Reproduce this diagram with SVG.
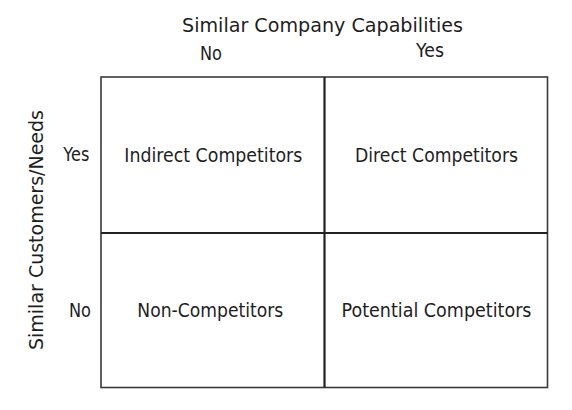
<svg xmlns="http://www.w3.org/2000/svg" width="572" height="410" viewBox="0 0 572 410">
<style>
text{font-family:"DejaVu Sans","Liberation Sans",sans-serif;fill:#1e1e1e;}
.t{font-size:20px;}
.l{font-size:19px;}
.cell{fill:#fff;stroke:none;}
.outer{fill:none;stroke:#3a3a3a;stroke-width:1.6;}
.inner{stroke:#222;stroke-width:2.2;}
</style>
<rect width="572" height="410" fill="#fff"/>
<g id="axis-x">
<text class="t" x="322.5" y="32" text-anchor="middle" textLength="281" lengthAdjust="spacingAndGlyphs">Similar Company Capabilities</text>
<text class="l" x="211" y="60" text-anchor="middle" textLength="22" lengthAdjust="spacingAndGlyphs">No</text>
<text class="l" x="430" y="57" text-anchor="middle" textLength="28" lengthAdjust="spacingAndGlyphs">Yes</text>
</g>
<g id="axis-y">
<text class="t" transform="translate(43,230) rotate(-90)" x="0" y="0" text-anchor="middle" textLength="240" lengthAdjust="spacingAndGlyphs">Similar Customers/Needs</text>
<text class="l" x="76.3" y="161" text-anchor="middle" textLength="26" lengthAdjust="spacingAndGlyphs">Yes</text>
<text class="l" x="80" y="317" text-anchor="middle" textLength="22" lengthAdjust="spacingAndGlyphs">No</text>
</g>
<g id="indirect">
<rect class="cell" x="101" y="77" width="223.5" height="156"/>
<text class="l" x="213.3" y="162" text-anchor="middle" textLength="178" lengthAdjust="spacingAndGlyphs">Indirect Competitors</text>
</g>
<g id="direct">
<rect class="cell" x="324.5" y="77" width="223" height="156"/>
<text class="l" x="436.5" y="162" text-anchor="middle" textLength="163" lengthAdjust="spacingAndGlyphs">Direct Competitors</text>
</g>
<g id="non">
<rect class="cell" x="101" y="233" width="223.5" height="154.5"/>
<text class="l" x="210.3" y="317" text-anchor="middle" textLength="146" lengthAdjust="spacingAndGlyphs">Non-Competitors</text>
</g>
<g id="potential">
<rect class="cell" x="324.5" y="233" width="223" height="154.5"/>
<text class="l" x="436.5" y="317" text-anchor="middle" textLength="190" lengthAdjust="spacingAndGlyphs">Potential Competitors</text>
</g>
<g id="connectors">
<rect class="outer" x="101" y="77" width="446.5" height="310.5"/>
<line class="inner" x1="324.5" y1="77" x2="324.5" y2="387.5"/>
<line class="inner" x1="101" y1="233" x2="547.5" y2="233"/>
</g>
</svg>
